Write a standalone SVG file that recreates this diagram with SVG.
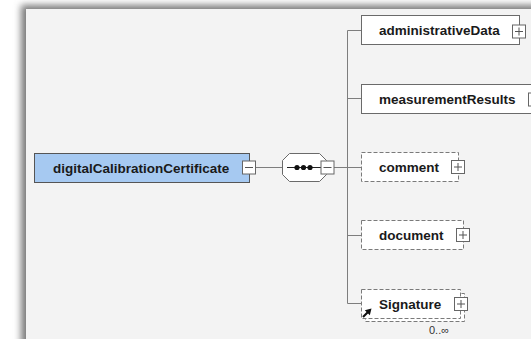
<svg xmlns="http://www.w3.org/2000/svg" width="531" height="339" viewBox="0 0 531 339">
  <defs>
    <filter id="panelShadow" x="-10%" y="-10%" width="120%" height="120%">
      <feGaussianBlur stdDeviation="3.5"/>
    </filter>
    <g id="plusIcon">
      <rect x="0" y="0" width="13" height="13" class="icon"/>
      <path d="M2.5 6.5H10.5M6.5 2.5V10.5" class="glyph"/>
    </g>
    <g id="minusIcon">
      <rect x="0" y="0" width="13" height="13" class="icon"/>
      <path d="M2.5 6.5H10.5" class="glyph"/>
    </g>
  </defs>
  <style>
    .box { fill: #ffffff; stroke: #6a6a6a; stroke-width: 1; }
    .opt { fill: #ffffff; stroke: #7a7a7a; stroke-width: 1; stroke-dasharray: 4 2; }
    .root { fill: #a6c9f1; stroke: #555555; stroke-width: 1; }
    .icon { fill: #ffffff; stroke: #666666; stroke-width: 1; }
    .glyph { fill: none; stroke: #555555; stroke-width: 1; }
    .wire { fill: none; stroke: #7d7d7d; stroke-width: 1; }
    .label { font-family: "Liberation Sans", Arial, sans-serif; font-weight: bold; font-size: 13.5px; fill: #1a1a1a; }
    .card { font-family: "Liberation Sans", Arial, sans-serif; font-size: 11px; fill: #333333; }
  </style>

  <!-- page background and panel with its soft shadow -->
  <rect x="0" y="0" width="531" height="339" fill="#ffffff"/>
  <rect x="21" y="5" width="520" height="345" fill="#7a7a7a" filter="url(#panelShadow)"/>
  <rect x="26" y="9" width="510" height="335" fill="#f3f3f3"/>

  <!-- connectors -->
  <g id="connectors">
    <path class="wire" d="M255.5 167.5H282"/>
    <path class="wire" d="M334 167.5H347.5"/>
    <path class="wire" d="M361 30.5H347.5V303.5H361"/>
    <path class="wire" d="M347.5 98.5H361"/>
    <path class="wire" d="M347.5 167.5H361"/>
    <path class="wire" d="M347.5 235.5H361"/>
  </g>

  <!-- root element -->
  <g id="digitalCalibrationCertificate">
    <rect class="root" x="34.5" y="153.5" width="215" height="29"/>
    <text class="label" x="53" y="172.5">digitalCalibrationCertificate</text>
    <use href="#minusIcon" x="242.5" y="161"/>
  </g>

  <!-- sequence compositor -->
  <g id="sequence">
    <path class="box" d="M289.5 153.5H319.5L326.5 160.5V174.5L319.5 181.5H289.5L282.5 174.5V160.5Z" stroke="#555555"/>
    <path d="M287 167.5H321" stroke="#222222" stroke-width="1"/>
    <circle cx="297" cy="167.5" r="2.6" fill="#111111"/>
    <circle cx="303.5" cy="167.5" r="2.6" fill="#111111"/>
    <circle cx="310" cy="167.5" r="2.6" fill="#111111"/>
    <use href="#minusIcon" x="321" y="161"/>
  </g>

  <!-- child elements -->
  <g id="administrativeData">
    <rect class="box" x="361.5" y="15.5" width="158" height="29"/>
    <text class="label" x="379" y="34.5">administrativeData</text>
    <use href="#plusIcon" x="512.5" y="25"/>
  </g>

  <g id="measurementResults">
    <rect class="box" x="361.5" y="84.5" width="174" height="29"/>
    <text class="label" x="379" y="103.5">measurementResults</text>
    <use href="#plusIcon" x="528.5" y="93"/>
  </g>

  <g id="comment">
    <rect class="opt" x="361.5" y="152.5" width="97" height="29"/>
    <text class="label" x="379" y="171.5">comment</text>
    <use href="#plusIcon" x="451.5" y="160.5"/>
  </g>

  <g id="document">
    <rect class="opt" x="361.5" y="220.5" width="102" height="29"/>
    <text class="label" x="379" y="239.5">document</text>
    <use href="#plusIcon" x="456.5" y="228.5"/>
  </g>

  <g id="Signature">
    <rect class="opt" x="365.5" y="293.5" width="99" height="28"/>
    <rect class="opt" x="361.5" y="289.5" width="99" height="29"/>
    <text class="label" x="379" y="308.5">Signature</text>
    <use href="#plusIcon" x="454.5" y="297.5"/>
    <path d="M363 317L368.5 311.5" stroke="#111111" stroke-width="2.2"/>
    <path d="M371.5 308.5L364.8 310.2L369.8 315.2Z" fill="#111111"/>
    <text class="card" x="439" y="334" text-anchor="middle">0..∞</text>
  </g>
</svg>
